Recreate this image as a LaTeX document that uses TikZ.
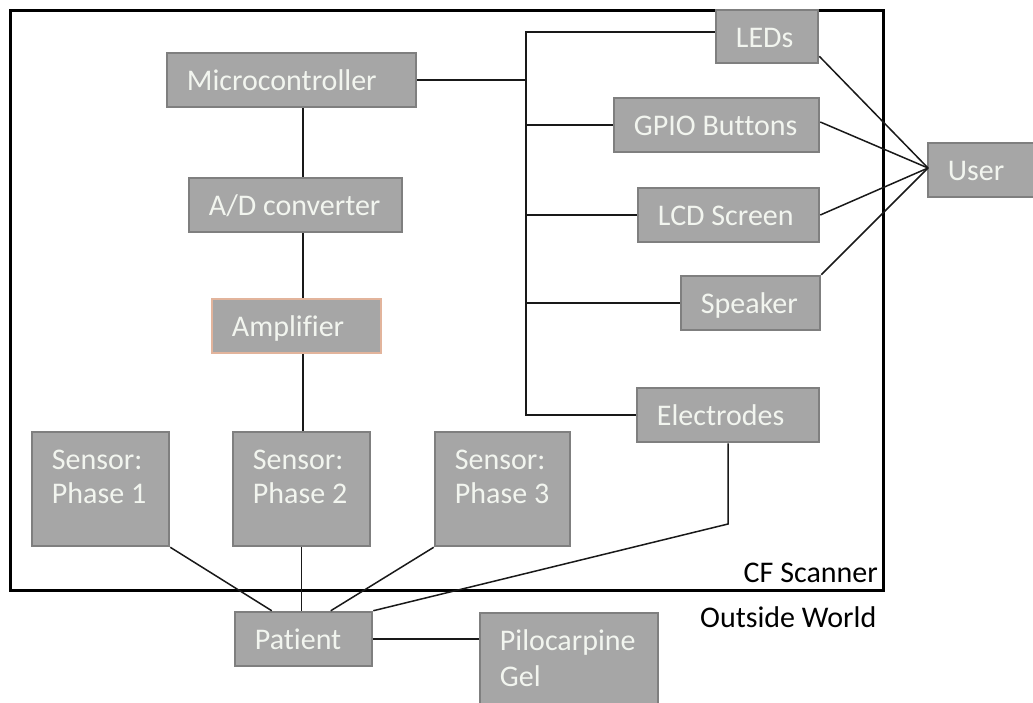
\documentclass[tikz,border=0pt]{standalone}
\usepackage{fontspec}
\setmainfont{Carlito}[Ligatures=NoCommon]
\usetikzlibrary{calc}
\definecolor{boxfill}{HTML}{A6A6A6}
\definecolor{boxline}{HTML}{7F7F7F}
\definecolor{ampline}{HTML}{E2B49C}
\definecolor{boxtext}{HTML}{F2F5EF}
\tikzset{
  boxs/.style={draw=boxline, fill=boxfill, line width=2.5pt, rectangle, inner sep=0pt},
  lbl/.style={anchor=base west, inner sep=0pt, text=boxtext, font=\fontsize{30pt}{36pt}\selectfont},
  plain/.style={anchor=base west, inner sep=0pt, text=black, font=\fontsize{30pt}{36pt}\selectfont},
  conn/.style={draw=black!90, line width=1.5pt},
}
\newcommand\bx[7][]{%
  \node[boxs,#1, minimum width={#5-#3}, minimum height={#6-#4}] (#2) at ({(#3+#5)/2},{(#4+#6)/2}) {};
  \node[lbl] (#2-t) at ($(#2.north west)+(21,39)$) {#7};}
\begin{document}
\begin{tikzpicture}[x=1pt,y=-1pt]
\clip (0,0) rectangle (1033,702);
\fill[white] (0,0) rectangle (1033,702);
% frame
\draw[line width=3pt] (10,10) rectangle (883,590);
\node[plain, anchor=base east] (cfs) at (878,582) {CF Scanner};
\node[plain] (ow) at (700,627) {Outside World};
% boxes
\bx{mc}{167}{53}{416}{107}{Microcontroller}
\bx{ad}{189}{178}{402}{232}{A/D converter}
\bx[draw=ampline]{amp}{212}{299}{381}{353}{Amplifier}
\bx{s1}{32}{432}{169}{546}{Sensor:}
\node[lbl] (s1-t2) at ($(s1-t.base west)+(0,34)$) {Phase 1};
\bx{s2}{233}{432}{370}{546}{Sensor:}
\node[lbl] (s2-t2) at ($(s2-t.base west)+(0,34)$) {Phase 2};
\bx{s3}{435}{432}{570}{546}{Sensor:}
\node[lbl] (s3-t2) at ($(s3-t.base west)+(0,34)$) {Phase 3};
\bx{pat}{235}{612}{372}{666}{Patient}
\bx{pilo}{480}{613}{658}{725}{Pilocarpine}
\node[lbl] (pilo-t2) at ($(pilo-t.base west)+(0,36)$) {Gel};
\bx{leds}{716}{10}{818}{63}{LEDs}
\bx{gpio}{614}{98}{819}{152}{GPIO Buttons}
\bx{lcd}{638}{188}{819}{242}{LCD Screen}
\bx{spk}{681}{276}{820}{330}{Speaker}
\bx{elec}{637}{388}{819}{442}{Electrodes}
\bx{user}{928}{143}{1045}{197}{User}
% bus
\coordinate (bustop) at (526,32);
\draw[conn] (bustop -| leds.west) -- (bustop) -- (bustop |- elec.west) -- (elec.west);
\draw[conn] (mc.east) -- (mc.east -| bustop);
\draw[conn] (gpio.west) -- (gpio.west -| bustop);
\draw[conn] (lcd.west) -- (lcd.west -| bustop);
\draw[conn] (spk.west) -- (spk.west -| bustop);
% vertical chain
\coordinate (vx) at (303,0);
\draw[conn] (mc.south -| vx) -- (ad.north -| vx);
\draw[conn] (ad.south -| vx) -- (amp.north -| vx);
\draw[conn] (amp.south -| vx) -- (s2.north -| vx);
% to patient
\draw[conn] (s1.south east) -- ($(pat.north west)+(38,0)$);
\draw[conn] (s2.south) -- (s2.south |- pat.north);
\draw[conn] (s3.south west) -- ($(pat.north west)+(97,0)$);
\coordinate (ek) at (728,524);
\draw[conn] (elec.south) -- (ek) -- (pat.north east);
\draw[conn] (pat.east) -- (pat.east -| pilo.west);
% to user
\coordinate (uw) at (928,168);
\draw[conn] ($(leds.south east)+(0,-8)$) -- (uw);
\draw[conn] ($(gpio.east)+(0,-3)$) -- (uw);
\draw[conn] (lcd.east) -- (uw);
\draw[conn] (spk.north east) -- (uw);
\end{tikzpicture}
\end{document}
